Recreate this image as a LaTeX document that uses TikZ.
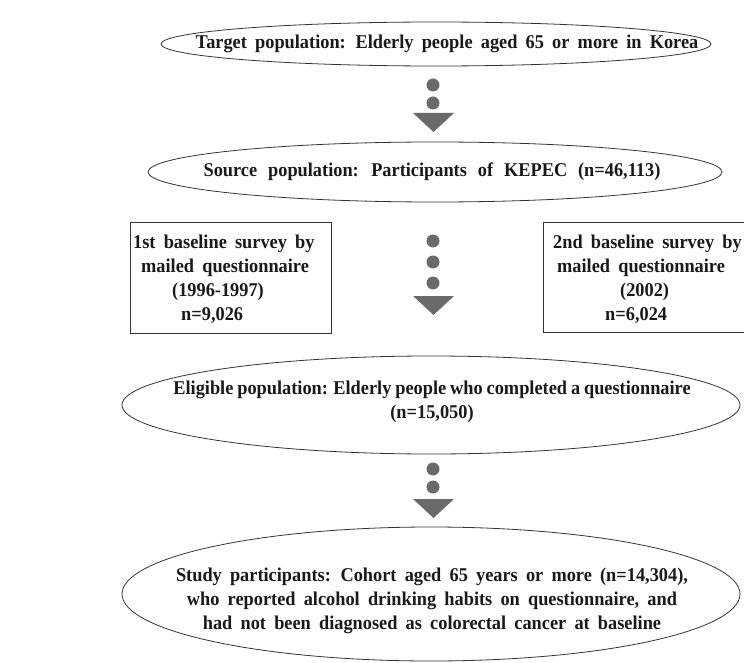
\documentclass[tikz,border=0pt]{standalone}
\usepackage{fontspec}
\setmainfont{Liberation Serif}[FakeStretch=0.94]
\usetikzlibrary{shapes.geometric}
\definecolor{arrowgray}{HTML}{6A6A6A}
\definecolor{linegray}{HTML}{333333}
\newcommand{\diagfont}{\fontsize{19.5}{24}\selectfont\bfseries\spaceskip=0.42em plus 0.1em minus 0.05em\relax}
\tikzset{
  txt/.style={font=\diagfont, align=center, inner sep=0pt, text=black!90},
  oval/.style={ellipse, draw=linegray, line width=0.8pt, inner sep=0pt},
  survey/.style={rectangle, draw=linegray, line width=0.8pt, inner sep=0pt, anchor=north west},
  dot/.style={circle, fill=arrowgray, inner sep=0pt, minimum size=13pt},
  tri/.style={fill=arrowgray},
}
\begin{document}
\begin{tikzpicture}[x=1pt,y=-1pt]
\useasboundingbox (0,0) rectangle (744,663);
% ellipses
\node[oval, minimum width=550pt, minimum height=44pt] (target) at (436,44) {};
\node[txt] (targett) at (447,44) {Target population: Elderly people aged 65 or more in Korea};
\node[oval, minimum width=574pt, minimum height=60pt] (source) at (435,172) {};
\node[txt] (sourcet) at (432,172) {\spaceskip=0.56em\relax Source population: Participants of KEPEC (n=46,113)};
\node[oval, minimum width=618pt, minimum height=98pt] (elig) at (431,405) {};
\node[txt] (eligt) at (432,402) {\spaceskip=0.2em\relax Eligible population: Elderly people who completed a questionnaire\\(n=15,050)};
\node[oval, minimum width=618pt, minimum height=134pt] (study) at (431,594) {};
\node[txt] (studyt) at (432,601) {Study participants: Cohort aged 65 years or more (n=14,304),\\who reported alcohol drinking habits on questionnaire, and\\had not been diagnosed as colorectal cancer at baseline};
% boxes
\node[survey, minimum width=201pt, minimum height=111pt] (first) at (130,222) {};
\node[survey, minimum width=202pt, minimum height=110pt] (second) at (543,222) {};
\node[txt, anchor=base west] (f1) at (133,248) {1st baseline survey by};
\node[txt, anchor=base west] (f2) at (141,272) {mailed questionnaire};
\node[txt, anchor=base west] (f3) at (172,296) {(1996-1997)};
\node[txt, anchor=base west] (f4) at (181,320) {n=9,026};
\node[txt, anchor=base west] (s1) at (553,248) {2nd baseline survey by};
\node[txt, anchor=base west] (s2) at (557,272) {mailed questionnaire};
\node[txt, anchor=base west] (s3) at (620,296) {(2002)};
\node[txt, anchor=base west] (s4) at (605,320) {n=6,024};
% arrow 1
\node[dot] (a1) at (433,85) {};
\node[dot] (a2) at (433,103) {};
\coordinate (t1l) at (413,113); \coordinate (t1r) at (454,113); \coordinate (t1b) at (433.5,132);
\fill[tri] (t1l) -- (t1r) -- (t1b) -- cycle;
% arrow 2
\node[dot] (b1) at (433,241) {};
\node[dot] (b2) at (433,262) {};
\node[dot] (b3) at (433,283) {};
\coordinate (t2l) at (413,296); \coordinate (t2r) at (454,296); \coordinate (t2b) at (433.5,315);
\fill[tri] (t2l) -- (t2r) -- (t2b) -- cycle;
% arrow 3
\node[dot] (c1) at (433,469) {};
\node[dot] (c2) at (433,487) {};
\coordinate (t3l) at (413,499); \coordinate (t3r) at (454,499); \coordinate (t3b) at (433.5,518);
\fill[tri] (t3l) -- (t3r) -- (t3b) -- cycle;
\end{tikzpicture}
\end{document}
